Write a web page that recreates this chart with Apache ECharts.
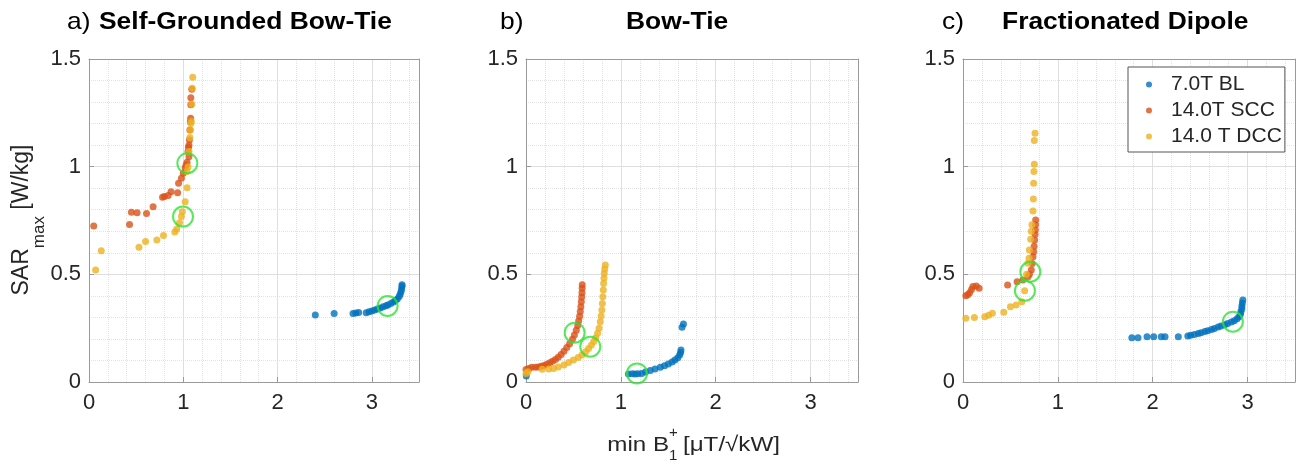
<!DOCTYPE html>
<html>
<head>
<meta charset="utf-8">
<script src="https://cdn.jsdelivr.net/npm/echarts@6/dist/echarts.min.js"></script>
<style>
  html, body { margin: 0; padding: 0; background: #fff; }
  #chart { width: 1304px; height: 467px; }
</style>
</head>
<body>
<div id="chart"></div>
<script>
// legend names
const seriesNames = ['7.0T BL', '14.0T SCC', '14.0 T DCC'];
const panelLetters = ['a)', 'b)', 'c)'];
const panelTitles = ['Self-Grounded Bow-Tie', 'Bow-Tie', 'Fractionated Dipole'];

// a) self-grounded bow-tie  [min B1+, SARmax]
const sgbtBL = [[2.40,0.311],[2.60,0.318],[2.80,0.318],[2.83,0.320],[2.86,0.323],[2.94,0.322],[2.97,0.326],
  [3.00,0.330],[3.03,0.334],[3.06,0.339],[3.09,0.344],[3.12,0.349],[3.15,0.354],[3.17,0.358],[3.20,0.364],
  [3.23,0.371],[3.25,0.378],[3.27,0.386],[3.29,0.397],[3.30,0.408],[3.31,0.420],[3.315,0.432],[3.32,0.445],[3.32,0.452]];
const sgbtSCC = [[0.05,0.725],[0.43,0.731],[0.45,0.788],[0.51,0.786],[0.61,0.782],[0.68,0.814],[0.78,0.858],
  [0.80,0.862],[0.84,0.866],[0.87,0.884],[0.94,0.879],[0.95,0.923],[0.98,0.946],[1.00,0.969],[1.02,0.995],
  [1.03,1.008],[1.04,1.02],[1.06,1.046],[1.05,1.07],[1.055,1.09],[1.06,1.10],[1.065,1.124],[1.07,1.17],
  [1.075,1.209],[1.078,1.225],[1.08,1.287],[1.08,1.32],[1.09,1.36]];
const sgbtDCC = [[0.07,0.52],[0.13,0.61],[0.53,0.626],[0.60,0.653],[0.72,0.66],[0.79,0.68],[0.91,0.697],
  [0.93,0.709],[0.96,0.74],[0.98,0.768],[0.99,0.791],[1.02,0.837],[1.04,0.902],[1.04,0.977],[1.05,1.0],
  [1.06,1.07],[1.07,1.136],[1.075,1.17],[1.08,1.2],[1.085,1.21],[1.09,1.29],[1.095,1.364],[1.10,1.415]];
const sgbtOpt = [[0.997,0.768],[1.043,1.016],[3.167,0.353]];

// b) bow-tie
const btBL = [[0.003,0.028],[1.08,0.037],[1.12,0.038],[1.15,0.037],[1.18,0.038],[1.22,0.040],[1.26,0.046],
  [1.31,0.053],[1.36,0.060],[1.416,0.068],[1.46,0.076],[1.50,0.084],[1.54,0.093],[1.57,0.102],[1.60,0.113],
  [1.62,0.125],[1.63,0.137],[1.634,0.149],[1.645,0.254],[1.66,0.269]];
const btSCC = [[0.00,0.058],[0.03,0.063],[0.06,0.068],[0.10,0.068],[0.13,0.070],[0.16,0.073],[0.19,0.077],
  [0.22,0.082],[0.25,0.089],[0.28,0.096],[0.31,0.104],[0.34,0.115],[0.37,0.128],[0.40,0.143],[0.43,0.160],
  [0.46,0.178],[0.49,0.199],[0.51,0.218],[0.53,0.240],[0.545,0.262],[0.555,0.283],[0.565,0.305],[0.572,0.327],
  [0.578,0.350],[0.583,0.373],[0.587,0.395],[0.59,0.415],[0.592,0.435],[0.593,0.452]];
const btDCC = [[0.00,0.040],[0.02,0.048],[0.17,0.059],[0.24,0.060],[0.29,0.063],[0.34,0.070],[0.40,0.079],
  [0.45,0.090],[0.50,0.102],[0.55,0.114],[0.59,0.125],[0.63,0.140],[0.66,0.156],[0.69,0.172],[0.715,0.188],
  [0.735,0.205],[0.755,0.226],[0.77,0.25],[0.783,0.28],[0.792,0.306],[0.80,0.334],[0.805,0.365],[0.81,0.396],
  [0.815,0.427],[0.818,0.458],[0.822,0.482],[0.825,0.505],[0.83,0.525],[0.836,0.543]];
const btOpt = [[0.513,0.229],[0.678,0.164],[1.17,0.04]];

// c) fractionated dipole
const fdBL = [[1.78,0.206],[1.845,0.206],[1.94,0.21],[2.01,0.21],[2.09,0.21],[2.13,0.21],[2.27,0.21],
  [2.37,0.214],[2.40,0.217],[2.44,0.221],[2.48,0.225],[2.51,0.229],[2.55,0.234],[2.58,0.238],[2.62,0.244],
  [2.65,0.249],[2.69,0.255],[2.72,0.26],[2.76,0.266],[2.79,0.272],[2.83,0.279],[2.86,0.285],[2.89,0.294],
  [2.91,0.303],[2.925,0.315],[2.93,0.327],[2.94,0.34],[2.94,0.353],[2.945,0.367],[2.95,0.381]];
const fdSCC = [[0.03,0.40],[0.05,0.405],[0.07,0.415],[0.09,0.43],[0.105,0.443],[0.14,0.446],[0.17,0.435],
  [0.47,0.45],[0.57,0.466],[0.63,0.474],[0.685,0.489],[0.70,0.50],[0.72,0.52],[0.73,0.55],[0.738,0.582],
  [0.745,0.605],[0.75,0.63],[0.755,0.66],[0.76,0.685],[0.763,0.706],[0.765,0.73],[0.766,0.752]];
const fdDCC = [[0.03,0.296],[0.12,0.30],[0.23,0.303],[0.27,0.31],[0.31,0.319],[0.43,0.324],[0.50,0.35],
  [0.56,0.358],[0.62,0.373],[0.65,0.424],[0.67,0.50],[0.685,0.551],[0.696,0.575],[0.70,0.613],[0.713,0.663],
  [0.72,0.70],[0.727,0.73],[0.738,0.794],[0.742,0.85],[0.745,0.923],[0.748,0.977],[0.752,1.011],
  [0.752,1.121],[0.759,1.155]];
const fdOpt = [[0.71,0.512],[0.653,0.424],[2.845,0.28]];

const panels = [
  [sgbtBL, sgbtSCC, sgbtDCC, sgbtOpt],
  [btBL, btSCC, btDCC, btOpt],
  [fdBL, fdSCC, fdDCC, fdOpt]
];

const colors = ['#0072BD', '#D95319', '#EDB120'];
const FONT = '"Liberation Sans", Arial, sans-serif';
const axisGray = '#9a9a9a';
const txt = '#262626';

let chart = echarts.init(document.getElementById('chart'));

const grids = [
  {left: 89, top: 59, width: 330, height: 323},
  {left: 526, top: 59, width: 332, height: 323},
  {left: 963, top: 59, width: 332, height: 323}
];

let xAxes = [], yAxes = [], series = [];
// main axes (0..2)
grids.forEach((g, i) => {
  xAxes.push({
    gridIndex: i, type: 'value', min: 0, max: 3.5, interval: 1,
    axisLine: {show: true, onZero: false, lineStyle: {color: axisGray}},
    axisTick: {show: true, inside: true, length: 5, lineStyle: {color: axisGray}},
    axisLabel: {fontSize: 22, color: txt, fontFamily: FONT, margin: 10, showMaxLabel: false},
    splitLine: {show: true, lineStyle: {color: '#dcdcdc'}}
  });
  yAxes.push({
    gridIndex: i, type: 'value', min: 0, max: 1.5, interval: 0.5,
    axisLine: {show: true, onZero: false, lineStyle: {color: axisGray}},
    axisTick: {show: true, inside: true, length: 5, lineStyle: {color: axisGray}},
    axisLabel: {fontSize: 22, color: txt, fontFamily: FONT, margin: 8},
    splitLine: {show: true, lineStyle: {color: '#dcdcdc'}}
  });
});
// mirror axes (3..5) give the box and the minor dotted grid
grids.forEach((g, i) => {
  xAxes.push({
    gridIndex: i, type: 'value', position: 'top', min: 0, max: 3.5, interval: 0.2,
    axisLine: {show: true, onZero: false, lineStyle: {color: axisGray}},
    axisTick: {show: false}, axisLabel: {show: false},
    splitLine: {show: true, lineStyle: {color: '#e2e2e2', type: 'dotted'}}
  });
  yAxes.push({
    gridIndex: i, type: 'value', position: 'right', min: 0, max: 1.5, interval: 0.1,
    axisLine: {show: true, onZero: false, lineStyle: {color: axisGray}},
    axisTick: {show: false}, axisLabel: {show: false},
    splitLine: {show: true, lineStyle: {color: '#e2e2e2', type: 'dotted'}}
  });
});

panels.forEach((p, i) => {
  for (let k = 0; k < 3; k++) {
    series.push({
      name: seriesNames[k], type: 'scatter', xAxisIndex: i, yAxisIndex: i,
      data: p[k], symbol: 'circle', symbolSize: 7,
      itemStyle: {color: colors[k]}, z: 2 + k
    });
  }
  series.push({
    name: 'optimum', type: 'scatter', xAxisIndex: i, yAxisIndex: i,
    data: p[3], symbol: 'circle', symbolSize: 20, silent: true,
    itemStyle: {color: 'rgba(0,0,0,0)', borderColor: '#2fe22f', borderWidth: 2}, z: 10
  });
});

const titleX = [[67, 99], [500, 626], [942, 1002]];
let graphics = [];
panelTitles.forEach((t, i) => {
  graphics.push({
    type: 'text', x: titleX[i][0], y: 22, scaleX: 1.1,
    style: {text: panelLetters[i], fontSize: 24, fontFamily: FONT, fill: '#000', align: 'left', verticalAlign: 'middle'}
  });
  graphics.push({
    type: 'text', x: titleX[i][1], y: 22, scaleX: 1.1,
    style: {text: t, fontSize: 24, fontWeight: 'bold', fontFamily: FONT, fill: '#000', align: 'left', verticalAlign: 'middle'}
  });
});
// y label with subscript
graphics.push({
  type: 'text', x: 29, y: 220, rotation: Math.PI / 2,
  style: {
    text: '{a|SAR}{s|max}{a| [W/kg]}', align: 'center', verticalAlign: 'middle',
    rich: {
      a: {fontSize: 23, fontFamily: FONT, fill: txt, verticalAlign: 'top'},
      s: {fontSize: 17, fontFamily: FONT, fill: txt, verticalAlign: 'bottom', padding: [21, 0, 0, 0]}
    }
  }
});
// x label under the middle panel
graphics.push({type: 'text', x: 669, y: 445, scaleX: 1.15,
  style: {text: 'min B', fontSize: 21, fontFamily: FONT, fill: txt, align: 'right', verticalAlign: 'middle'}});
graphics.push({type: 'text', x: 669, y: 433,
  style: {text: '+', fontSize: 15, fontFamily: FONT, fill: txt, align: 'left', verticalAlign: 'middle'}});
graphics.push({type: 'text', x: 669, y: 456,
  style: {text: '1', fontSize: 15, fontFamily: FONT, fill: txt, align: 'left', verticalAlign: 'middle'}});
graphics.push({type: 'text', x: 683, y: 445, scaleX: 1.15,
  style: {text: '[μT/√kW]', fontSize: 21, fontFamily: FONT, fill: txt, align: 'left', verticalAlign: 'middle'}});

let option = {
  backgroundColor: '#fff',
  animation: false,
  grid: grids,
  xAxis: xAxes,
  yAxis: yAxes,
  legend: {
    data: seriesNames, orient: 'vertical', left: 1128, top: 67,
    padding: [7, 3, 5, 18], itemGap: 5, itemWidth: 34, itemHeight: 6,
    icon: 'circle',
    backgroundColor: '#fff', borderColor: '#555', borderWidth: 1,
    textStyle: {fontSize: 21, color: txt, fontFamily: FONT}
  },
  series: series,
  graphic: graphics
};

chart.setOption(option);
</script>
</body>
</html>
